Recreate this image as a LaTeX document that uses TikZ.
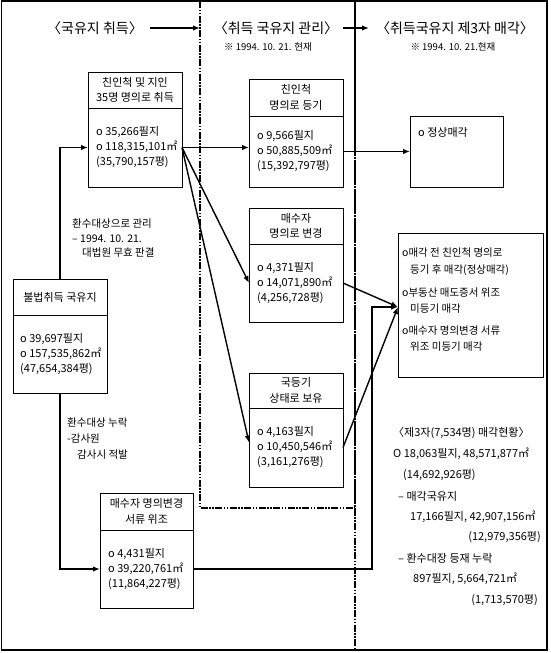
\documentclass[tikz,border=0pt]{standalone}
\usepackage{fontspec}
\setmainfont{Noto Sans CJK KR}
\usetikzlibrary{arrows.meta}
\begin{document}
\begin{tikzpicture}[x=1pt,y=-1pt,
  frame/.style={line width=1.5pt},
  dd/.style={line width=1.2pt,dash pattern=on 7pt off 1.5pt on 1.5pt off 1.5pt on 1.5pt off 1.5pt},
  box/.style={draw,line width=0.8pt,fill=white,inner sep=0pt,outer sep=0pt,anchor=north west,align=center,font=\fontsize{11}{15.5}\selectfont},
  body/.style={inner sep=0pt,anchor=west,align=left,font=\fontsize{11}{15}\selectfont},
  head/.style={inner sep=0pt,font=\fontsize{14}{16}\selectfont},
  sub/.style={inner sep=0pt,font=\fontsize{9.5}{11}\selectfont},
  note/.style={inner sep=0pt,anchor=west,align=left,font=\fontsize{10.5}{14.5}\selectfont},
  rt/.style={inner sep=0pt,font=\fontsize{11}{13}\selectfont},
  conn/.style={line width=1.4pt},
  arr/.style={conn,-{Latex[length=7pt,width=5.5pt]}}
]
\useasboundingbox (0,0) rectangle (550,653);

% dash-dot separators
\draw[dd] (200,1) rectangle (355,508);
\draw[dd] (355,1) -- (355,650);
% outer frame
\draw[frame] (1.5,1) rectangle (547,650);

% headers
\node[head] (T1) at (95,28) {〈국유지 취득〉};
\node[head] (T2) at (276,28) {〈취득 국유지 관리〉};
\node[head] (T3) at (455,28) {〈취득국유지 제3자 매각〉};
\node[sub] (S1) at (268,47) {※ 1994. 10. 21. 현재};
\node[sub] (S2) at (453,47) {※ 1994. 10. 21.현재};
\coordinate (a1s) at (150,28);
\coordinate (a1e) at (200,28);
\coordinate (a2s) at (343,28);
\coordinate (a2e) at (369,28);
\draw[arr] (a1s) -- (a1e);
\draw[arr] (a2s) -- (a2e);

% box A
\node[box,minimum width=94pt,minimum height=36pt] (Ah) at (88,72) {친인척 및 지인\\35명 명의로 취득};
\node[box,minimum width=94pt,minimum height=79pt] (Ab) at (88,108) {};
\node[body] (At) at ([xshift=8pt]Ab.west) {o 35,266필지\\o 118,315,101㎡\\(35,790,157평)};

% box B
\node[box,minimum width=94pt,minimum height=37pt] (Bh) at (249,79) {친인척\\명의로 등기};
\node[box,minimum width=94pt,minimum height=71pt] (Bb) at (249,116) {};
\node[body] (Bt) at ([xshift=8pt]Bb.west) {o 9,566필지\\o 50,885,509㎡\\(15,392,797평)};

% box C
\node[box,minimum width=93pt,minimum height=71pt] (Cb) at (410,116) {};
\node[body] (Ct) at ([xshift=8pt,yshift=-16pt]Cb.north west) {o 정상매각};

% box D
\node[box,minimum width=94pt,minimum height=36pt] (Dh) at (249,208) {매수자\\명의로 변경};
\node[box,minimum width=94pt,minimum height=78pt] (Db) at (249,244) {};
\node[body] (Dt) at ([xshift=8pt]Db.west) {o 4,371필지\\o 14,071,890㎡\\(4,256,728평)};

% box E
\node[box,minimum width=94pt,minimum height=35pt] (Eh) at (249,373) {국등기\\상태로 보유};
\node[box,minimum width=94pt,minimum height=79pt] (Eb) at (249,408) {};
\node[body] (Et) at ([xshift=8pt]Eb.west) {o 4,163필지\\o 10,450,546㎡\\(3,161,276평)};

% box F
\node[box,minimum width=145pt,minimum height=144pt] (F) at (398,233) {};
\node[note,font=\fontsize{10.5}{16.5}\selectfont] (F1) at (402,261.5) {o매각 전 친인척 명의로\\\hspace*{8pt}등기 후 매각(정상매각)};
\node[note,font=\fontsize{10.5}{16.5}\selectfont] (F2) at (402,300.5) {o부동산 매도증서 위조\\\hspace*{8pt}미등기 매각};
\node[note,font=\fontsize{10.5}{16.5}\selectfont] (F3) at (402,338.5) {o매수자 명의변경 서류\\\hspace*{8pt}위조 미등기 매각};

% box G
\node[box,minimum width=93pt,minimum height=37pt] (Gh) at (100,493) {매수자 명의변경\\서류 위조};
\node[box,minimum width=93pt,minimum height=78pt] (Gb) at (100,530) {};
\node[body] (Gt) at ([xshift=8pt]Gb.west) {o 4,431필지\\o 39,220,761㎡\\(11,864,227평)};

% box H
\node[box,minimum width=94pt,minimum height=36pt] (Hh) at (13,279) {불법취득 국유지};
\node[box,minimum width=94pt,minimum height=78pt] (Hb) at (13,315) {};
\node[body] (Ht) at ([xshift=7pt]Hb.west) {o 39,697필지\\o 157,535,862㎡\\(47,654,384평)};

% notes on the left
\node[note] (N1) at (72,238.5) {환수대상으로 관리\\– 1994. 10. 21.\\\hspace*{10pt}대법원 무효 판결};
\node[note,font=\fontsize{10.5}{16}\selectfont] (N2) at (67,439) {환수대상 누락\\-감사원\\\hspace*{10pt}감사시 적발};

% right-hand summary
\node[rt,anchor=west] (R1) at (393,433) {〈제3자(7,534명) 매각현황〉};
\node[rt,anchor=west] (R2) at (393,454) {O 18,063필지, 48,571,877㎡};
\node[rt,anchor=west] (R3) at (403,475) {(14,692,926평)};
\node[rt,anchor=west] (R4) at (398,496) {– 매각국유지};
\node[rt,anchor=west] (R5) at (410,516.5) {17,166필지, 42,907,156㎡};
\node[rt,anchor=east] (R6) at (541,537) {(12,979,356평)};
\node[rt,anchor=west] (R7) at (398,558) {– 환수대장 등재 누락};
\node[rt,anchor=west] (R8) at (413,579) {897필지, 5,664,721㎡};
\node[rt,anchor=east] (R9) at (538,600) {(1,713,570평)};

% connectors
\coordinate (ft) at (398,307);
\coordinate (bend) at (372,568);
\draw[arr] (Hh.north) |- (Ab.west);
\draw[arr] (Hb.south) |- (Gb.west);
\draw[arr] (Ab.east) -- (Ab.east -| Bb.west);
\draw[arr] (Ab.east) -- (Db.west);
\draw[arr] (Ab.east) -- ([yshift=5pt]Eb.west);
\draw[arr] (Bb.east) -- (Cb.west);
\draw[arr] (Db.east) -- (ft);
\draw[arr] (Eb.east) -- (ft);
\draw[arr] (Gb.east) -- (Gb.east -| bend) |- (ft);
\end{tikzpicture}
\end{document}
